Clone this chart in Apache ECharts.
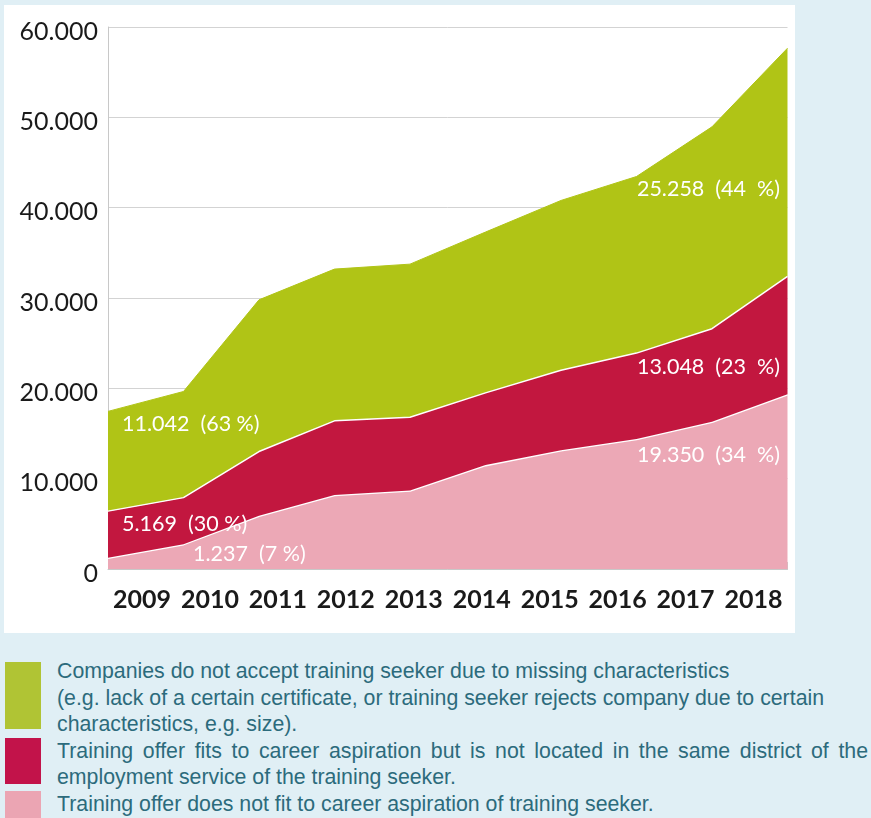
<!DOCTYPE html>
<html><head><meta charset="utf-8">
<script src="https://cdn.jsdelivr.net/npm/echarts@6/dist/echarts.min.js"></script>
<style>
html,body{margin:0;padding:0;width:871px;height:818px;background:#e0eff5;overflow:hidden;}
#panel{position:absolute;left:4px;top:5px;width:791px;height:628px;background:#fff;}
#chart{position:absolute;left:0;top:0;width:871px;height:640px;}
.sw{position:absolute;left:5px;width:36px;}
#legend{position:absolute;left:57px;top:658px;width:811px;font-family:'Liberation Sans',Arial,sans-serif;font-size:21.3px;line-height:26.5px;color:#2c6b7c;white-space:nowrap;}
.j{text-align:justify;text-align-last:justify;white-space:normal;}
</style></head>
<body>
<div id="panel"></div>
<div id="chart"></div>
<div id="swatches"></div>
<div id="legend"></div>
<script>
const years = ['2009','2010','2011','2012','2013','2014','2015','2016','2017','2018'];
const pinkValues  = [1237, 2750, 5900, 8200, 8700, 11500, 13150, 14400, 16300, 19350];
const redValues   = [5169, 5150, 7100, 8200, 8100, 8000, 8850, 9500, 10300, 13048];
const greenValues = [11042, 11750, 16800, 16800, 16950, 17800, 18800, 19550, 22350, 25258];
const seriesColors = ['#eca8b6', '#c2173f', '#b0c416'];
const legendLines = [
  ['Companies do not accept training seeker due to missing characteristics',
   '(e.g. lack of a certain certificate, or training seeker rejects company due to certain',
   'characteristics, e.g. size).'],
  ['Training offer fits to career aspiration but is not located in the same district of the',
   'employment service of the training seeker.'],
  ['Training offer does not fit to career aspiration of training seeker.']
];
const legendColors = ['#b0c434', '#c2134a', '#eba5b3'];

// legend (HTML)
const swTops = [662, 738, 791], swHeights = [67, 46, 40];
let lg = '';
legendLines.forEach((lines, k) => {
  lines.forEach((t, j) => {
    const just = (k === 1 && j === 0);
    lg += '<div' + (just ? ' class="j"' : '') + '>' + t + '</div>';
  });
});
document.getElementById('legend').innerHTML = lg;
let sw = '';
legendColors.forEach((c, k) => {
  sw += '<div class="sw" style="top:' + swTops[k] + 'px;height:' + swHeights[k] + 'px;background:' + c + '"></div>';
});
document.getElementById('swatches').innerHTML = sw;

const totals = years.map((_, i) => pinkValues[i] + redValues[i] + greenValues[i]);
function fmt(v) { return String(v).replace(/\B(?=(\d{3})+(?!\d))/g, '.'); }
function labelText(v, i, sep) { return fmt(v) + '  (' + Math.round(v / totals[i] * 100) + sep + '%)'; }
// first: [padLeft, vAlign, lineHeight]; last: [vAlign, lineHeight]
function withLabels(values, first, last) {
  return values.map((v, i) => {
    if (i === 0) return {value: v, label: {show: true, position: 'right', distance: 5, padding: [0, 0, 0, first[0]],
      verticalAlign: first[1], lineHeight: first[2], formatter: labelText(v, 0, ' ')}};
    if (i === values.length - 1) return {value: v, label: {show: true, position: 'left', distance: 7.5,
      verticalAlign: last[0], lineHeight: last[1], formatter: labelText(v, i, '  ')}};
    return v;
  });
}

const labelStyle = {show: false, fontFamily: 'Lato', fontSize: 21.5, color: '#ffffff'};
const common = {type: 'line', stack: 'total', xAxisIndex: 0, symbol: 'circle', symbolSize: 0, showSymbol: true,
  emphasis: {disabled: true}};
const chart = echarts.init(document.getElementById('chart'), null, {renderer: 'canvas'});
chart.setOption({
  animation: false,
  backgroundColor: 'transparent',
  grid: {left: 108, top: 27, right: 83.5, height: 542, containLabel: false},
  xAxis: [
    {type: 'category', data: years, boundaryGap: false, position: 'bottom', show: false},
    {type: 'category', data: years, boundaryGap: true, position: 'bottom',
     axisLine: {show: true, lineStyle: {color: '#c8c8c8', width: 1}},
     axisTick: {show: true, inside: true, length: 7, interval: 0, lineStyle: {color: '#c8c8c8'}},
     axisLabel: {interval: 0, fontFamily: 'Lato', fontWeight: 'bold', fontSize: 25, color: '#1a1a1a', margin: 18},
     splitLine: {show: false}}
  ],
  yAxis: {
    type: 'value', min: 0, max: 60000, interval: 10000,
    axisLine: {show: true, lineStyle: {color: '#c8c8c8'}},
    axisTick: {show: false},
    splitLine: {lineStyle: {color: '#d3d3d3', width: 1}},
    axisLabel: {fontFamily: 'Lato', fontSize: 25, color: '#1a1a1a', margin: 10, verticalAlign: 'top', lineHeight: 9,
      formatter: v => v === 0 ? '0' : fmt(v)}
  },
  series: [
    Object.assign({}, common, {name: 'pink', z: 4,
     areaStyle: {color: seriesColors[0], opacity: 1}, lineStyle: {color: '#ffffff', width: 2.6},
     itemStyle: {color: seriesColors[0]}, label: labelStyle,
     data: withLabels(pinkValues, [80, 'bottom', 7], ['top', 122])}),
    Object.assign({}, common, {name: 'red', z: 5,
     areaStyle: {color: seriesColors[1], opacity: 1}, lineStyle: {color: '#ffffff', width: 1.5},
     itemStyle: {color: seriesColors[1]}, label: labelStyle,
     data: withLabels(redValues, [9, 'top', 25], ['top', 182])}),
    Object.assign({}, common, {name: 'green', z: 2,
     areaStyle: {color: seriesColors[2], opacity: 1}, lineStyle: {color: seriesColors[2], width: 1},
     itemStyle: {color: seriesColors[2]}, label: labelStyle,
     data: withLabels(greenValues, [9, 'top', 26], ['top', 281])})
  ]
});
</script>
</body></html>
